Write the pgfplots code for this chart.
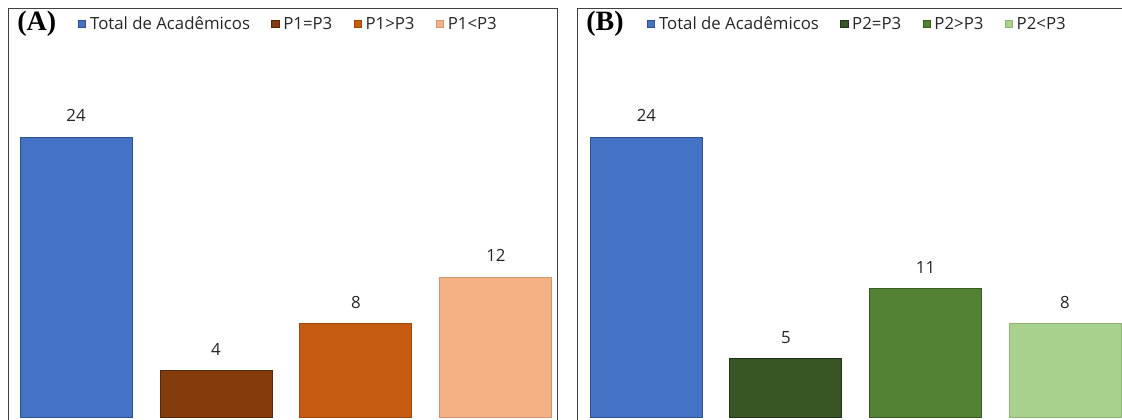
\documentclass[border=0pt]{standalone}
\usepackage{pgfplots}
\pgfplotsset{compat=1.18}
\usepackage{fontspec}
\setmainfont{Open Sans}
\newfontfamily\titlefont{Liberation Serif}

\definecolor{cblue}{HTML}{4472C4}
\definecolor{cblueb}{HTML}{2F528F}
\definecolor{cbrown}{HTML}{843C0C}
\definecolor{corange}{HTML}{C55A11}
\definecolor{cpeach}{HTML}{F4B183}
\definecolor{cdkgreen}{HTML}{375623}
\definecolor{cgreen}{HTML}{548235}
\definecolor{cltgreen}{HTML}{A9D18E}

\tikzset{paneltitle/.style={anchor=west, inner sep=0pt, font=\titlefont\bfseries\fontsize{21}{23}\selectfont}}

\pgfplotsset{
  panel/.style={
    scale only axis,
    height=310.5pt,
    ymin=-0.4286, ymax=35.06,
    xtick=\empty, ytick=\empty,
    axis line style={draw=black!75, line width=0.75pt},
    ybar, bar width=84pt, bar shift=0pt,
    nodes near coords,
    nodes near coords style={font=\fontsize{12.6}{15}\selectfont, text=black!85, anchor=south, inner sep=0pt, yshift=11pt},
    /pgf/number format/assume math mode=true,
    legend columns=-1,
    legend style={draw=none, fill=none, inner sep=0pt, anchor=west,
      at={(0.1275,0.961)}, font=\fontsize{12.6}{15}\selectfont, text=black!85,
      nodes={inner sep=3pt},
      /tikz/every even column/.append style={column sep=13pt}},
    legend image code/.code={\draw[#1, line width=0.5pt] (0pt,-2.7pt) rectangle (5.4pt,2.7pt);},
  },
}

\begin{document}
\begin{tikzpicture}
\useasboundingbox (0,0) rectangle (841.5pt,314.25pt);
\clip (0,0) rectangle (841.5pt,314.25pt);

% panel A
\begin{axis}[panel, at={(6pt,-2.25pt)}, anchor=south west, width=411.75pt,
  xmin=-0.486, xmax=3.436]
\addplot[fill=cblue, draw=cblueb, line width=0.75pt] coordinates {(0,24)};
\addlegendentry{Total de Acadêmicos}
\addplot[fill=cbrown, draw=cbrown!65!black, line width=0.75pt] coordinates {(1,4)};
\addlegendentry{P1=P3}
\addplot[fill=corange, draw=corange!80!black, line width=0.75pt] coordinates {(2,8)};
\addlegendentry{P1>P3}
\addplot[fill=cpeach, draw=cpeach!85!black, line width=0.75pt] coordinates {(3,12)};
\addlegendentry{P1<P3}
\node[paneltitle] at (rel axis cs:0.0164,0.961) {(A)};
\end{axis}

% panel B
\begin{axis}[panel, at={(432.75pt,-2.25pt)}, anchor=south west, width=411pt,
  xmin=-0.498, xmax=3.43]
\addplot[fill=cblue, draw=cblueb, line width=0.75pt] coordinates {(0,24)};
\addlegendentry{Total de Acadêmicos}
\addplot[fill=cdkgreen, draw=cdkgreen!60!black, line width=0.75pt] coordinates {(1,5)};
\addlegendentry{P2=P3}
\addplot[fill=cgreen, draw=cgreen!70!black, line width=0.75pt] coordinates {(2,11)};
\addlegendentry{P2>P3}
\addplot[fill=cltgreen, draw=cltgreen!85!black, line width=0.75pt] coordinates {(3,8)};
\addlegendentry{P2<P3}
\node[paneltitle] at (rel axis cs:0.0164,0.961) {(B)};
\end{axis}
\end{tikzpicture}
\end{document}
